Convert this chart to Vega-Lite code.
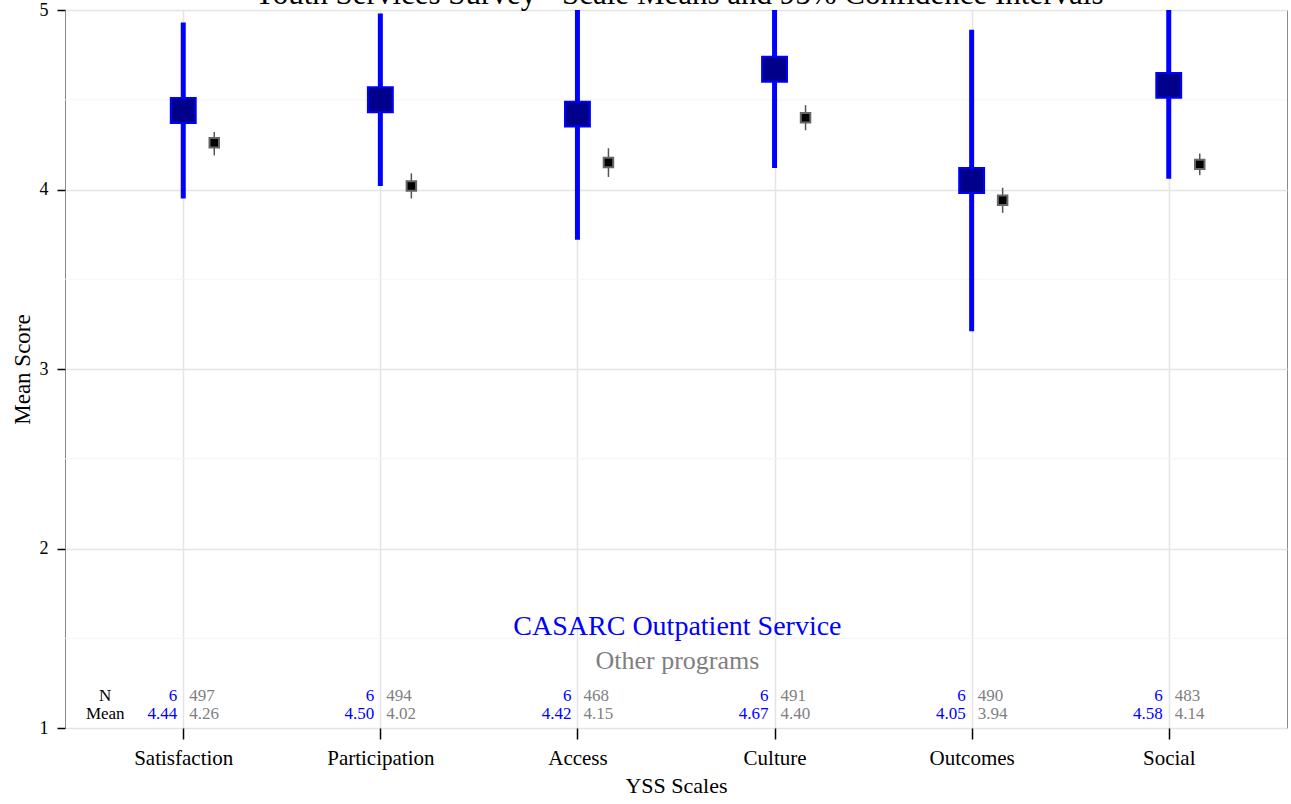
{
  "$schema": "https://vega.github.io/schema/vega-lite/v6.json",
  "autosize": {"type": "none"},
  "width": 1222,
  "height": 718,
  "padding": {"left": 65, "top": 10, "right": 4, "bottom": 76},
  "background": "white",
  "config": {
    "view": {"stroke": "#8a8a8a", "strokeWidth": 1},
    "font": "Liberation Serif"
  },
  "datasets": {
    "main": [
      {"scale": "Satisfaction", "group": "CASARC Outpatient Service", "n": 6, "mean": 4.44, "lo": 3.95, "hi": 4.93},
      {"scale": "Participation", "group": "CASARC Outpatient Service", "n": 6, "mean": 4.50, "lo": 4.02, "hi": 4.98},
      {"scale": "Access", "group": "CASARC Outpatient Service", "n": 6, "mean": 4.42, "lo": 3.72, "hi": 5.12},
      {"scale": "Culture", "group": "CASARC Outpatient Service", "n": 6, "mean": 4.67, "lo": 4.12, "hi": 5.22},
      {"scale": "Outcomes", "group": "CASARC Outpatient Service", "n": 6, "mean": 4.05, "lo": 3.21, "hi": 4.89},
      {"scale": "Social", "group": "CASARC Outpatient Service", "n": 6, "mean": 4.58, "lo": 4.06, "hi": 5.10},
      {"scale": "Satisfaction", "group": "Other programs", "n": 497, "mean": 4.26, "lo": 4.19, "hi": 4.32},
      {"scale": "Participation", "group": "Other programs", "n": 494, "mean": 4.02, "lo": 3.95, "hi": 4.09},
      {"scale": "Access", "group": "Other programs", "n": 468, "mean": 4.15, "lo": 4.07, "hi": 4.23},
      {"scale": "Culture", "group": "Other programs", "n": 491, "mean": 4.40, "lo": 4.33, "hi": 4.47},
      {"scale": "Outcomes", "group": "Other programs", "n": 490, "mean": 3.94, "lo": 3.87, "hi": 4.01},
      {"scale": "Social", "group": "Other programs", "n": 483, "mean": 4.14, "lo": 4.08, "hi": 4.20}
    ],
    "minor": [{"v": 1.5}, {"v": 2.5}, {"v": 3.5}, {"v": 4.5}],
    "one": [{"k": 1}]
  },
  "data": {"name": "main"},
  "encoding": {
    "x": {
      "field": "scale",
      "type": "nominal",
      "sort": ["Satisfaction", "Participation", "Access", "Culture", "Outcomes", "Social"],
      "scale": {"type": "point", "padding": 0.6},
      "axis": {
        "title": "YSS Scales",
        "titleFontSize": 22,
        "titleFontWeight": "normal",
        "titleColor": "black",
        "titlePadding": 7,
        "labelFontSize": 21,
        "labelColor": "black",
        "labelAngle": 0,
        "labelPadding": 8,
        "tickSize": 11,
        "tickColor": "black",
        "tickWidth": 1.5,
        "domain": false,
        "grid": true,
        "gridColor": "#e4e4e4",
        "gridWidth": 1.5
      }
    }
  },
  "layer": [
    {
      "data": {"name": "minor"},
      "mark": {"type": "rule", "color": "#f4f4f4", "strokeWidth": 1},
      "encoding": {"x": null, "y": {"field": "v", "type": "quantitative"}}
    },
    {
      "transform": [{"filter": "datum.group === 'CASARC Outpatient Service'"}],
      "mark": {"type": "rule", "color": "#0000ff", "strokeWidth": 5, "clip": true},
      "encoding": {
        "y": {
          "field": "lo",
          "type": "quantitative",
          "scale": {"domain": [1, 5], "nice": false, "zero": false},
          "axis": {
            "title": "Mean Score",
            "titleFontSize": 23,
            "titleFontWeight": "normal",
            "titleColor": "black",
            "titlePadding": 5,
            "values": [1, 2, 3, 4, 5],
            "format": "d",
            "labelFontSize": 18,
            "labelColor": "black",
            "labelPadding": 9,
            "tickSize": 8,
            "tickColor": "black",
            "tickWidth": 1.5,
            "domain": false,
            "grid": true,
            "gridColor": "#e4e4e4",
            "gridWidth": 1.5
          }
        },
        "y2": {"field": "hi"}
      }
    },
    {
      "transform": [{"filter": "datum.group === 'CASARC Outpatient Service'"}],
      "mark": {"type": "point", "shape": "square", "filled": true, "size": 620, "fill": "#00008b", "stroke": "#0000ff", "strokeWidth": 2, "opacity": 1},
      "encoding": {"y": {"field": "mean", "type": "quantitative"}}
    },
    {
      "transform": [{"filter": "datum.group === 'Other programs'"}],
      "mark": {"type": "rule", "color": "#555555", "strokeWidth": 1.5, "xOffset": 31},
      "encoding": {"y": {"field": "lo", "type": "quantitative"}, "y2": {"field": "hi"}}
    },
    {
      "transform": [{"filter": "datum.group === 'Other programs'"}],
      "mark": {"type": "point", "shape": "square", "filled": true, "size": 90, "fill": "#000000", "stroke": "#666666", "strokeWidth": 2, "opacity": 1, "xOffset": 31},
      "encoding": {"y": {"field": "mean", "type": "quantitative"}}
    },
    {
      "transform": [{"filter": "datum.group === 'CASARC Outpatient Service'"}],
      "mark": {"type": "text", "align": "right", "baseline": "middle", "fontSize": 17, "fill": "#0000ff", "xOffset": -6},
      "encoding": {"y": {"datum": 1.18}, "text": {"field": "n", "type": "quantitative"}}
    },
    {
      "transform": [{"filter": "datum.group === 'CASARC Outpatient Service'"}],
      "mark": {"type": "text", "align": "right", "baseline": "middle", "fontSize": 17, "fill": "#0000ff", "xOffset": -6},
      "encoding": {"y": {"datum": 1.08}, "text": {"field": "mean", "type": "quantitative", "format": ".2f"}}
    },
    {
      "transform": [{"filter": "datum.group === 'Other programs'"}],
      "mark": {"type": "text", "align": "left", "baseline": "middle", "fontSize": 17, "fill": "#7f7f7f", "xOffset": 6},
      "encoding": {"y": {"datum": 1.18}, "text": {"field": "n", "type": "quantitative"}}
    },
    {
      "transform": [{"filter": "datum.group === 'Other programs'"}],
      "mark": {"type": "text", "align": "left", "baseline": "middle", "fontSize": 17, "fill": "#7f7f7f", "xOffset": 6},
      "encoding": {"y": {"datum": 1.08}, "text": {"field": "mean", "type": "quantitative", "format": ".2f"}}
    },
    {
      "data": {"name": "one"},
      "mark": {"type": "text", "align": "center", "baseline": "middle", "fontSize": 17, "fill": "black", "xOffset": -78},
      "encoding": {"x": {"datum": "Satisfaction"}, "y": {"datum": 1.18}, "text": {"value": "N"}}
    },
    {
      "data": {"name": "one"},
      "mark": {"type": "text", "align": "center", "baseline": "middle", "fontSize": 17, "fill": "black", "xOffset": -78},
      "encoding": {"x": {"datum": "Satisfaction"}, "y": {"datum": 1.08}, "text": {"value": "Mean"}}
    },
    {
      "data": {"name": "one"},
      "mark": {"type": "text", "align": "center", "baseline": "middle", "fontSize": 28, "fill": "#0000ff", "xOffset": 100},
      "encoding": {"x": {"datum": "Access"}, "y": {"datum": 1.565}, "text": {"value": "CASARC Outpatient Service"}}
    },
    {
      "data": {"name": "one"},
      "mark": {"type": "text", "align": "center", "baseline": "middle", "fontSize": 26, "fill": "#7f7f7f", "xOffset": 100},
      "encoding": {"x": {"datum": "Access"}, "y": {"datum": 1.375}, "text": {"value": "Other programs"}}
    },
    {
      "data": {"name": "one"},
      "mark": {"type": "text", "align": "center", "baseline": "alphabetic", "fontSize": 31, "fill": "black", "xOffset": 101, "dy": -6},
      "encoding": {"x": {"datum": "Access"}, "y": {"datum": 5}, "text": {"value": "Youth Services Survey - Scale Means and 95% Confidence Intervals"}}
    }
  ]
}
